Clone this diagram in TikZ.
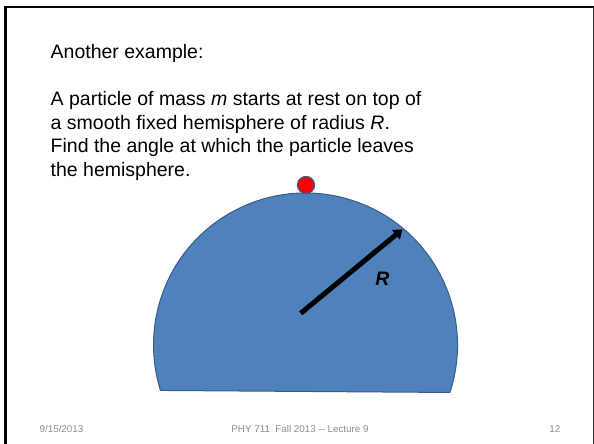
\documentclass[tikz,border=0pt]{standalone}
\usepackage{fontspec}
\setmainfont{Liberation Sans}
\usetikzlibrary{arrows.meta}
\definecolor{hemifill}{HTML}{4F81BD}
\definecolor{hemiline}{HTML}{385D8A}
\definecolor{footgray}{HTML}{8C8C8C}
\tikzset{
  bodytext/.style={inner sep=0pt, font=\fontsize{19.5}{23.5}\selectfont, anchor=base west},
  foottext/.style={inner sep=0pt, font=\fontsize{9.8}{12}\selectfont, text=footgray},
  hemi/.style={fill=hemifill, draw=hemiline, line width=1pt},
  particle/.style={circle, fill=red, draw=hemiline, line width=1.2pt, minimum size=17pt, inner sep=0pt},
  radiusarrow/.style={line width=5pt, -{Triangle[length=8.5pt,width=12pt]}, shorten >=-1pt},
  frameline/.style={line width=2.5pt, black}
}
\begin{document}
\begin{tikzpicture}[x=1pt,y=1pt]
\useasboundingbox (0,0) rectangle (594,444);
% slide frame
\coordinate (fbl) at (5.3,0);
\coordinate (ftl) at (5.3,436.8);
\coordinate (ftr) at (593.3,436.8);
\coordinate (fbr) at (593.3,0);
\draw[frameline] (fbl) -- (ftl);
\draw[frameline] (4.05,436.8) -- (594,436.8);
\draw[line width=1.3pt, black!80] (ftr) -- (fbr);
% text
\node[bodytext] (title) at (50.5,385.7) {Another example:};
\node[bodytext] (l1) at (50.5,338) {A particle of mass \textit{m} starts at rest on top of};
\node[bodytext] (l2) at (50.5,314.7) {a smooth fixed hemisphere of radius \textit{R}.};
\node[bodytext] (l3) at (50.5,291.2) {Find the angle at which the particle leaves};
\node[bodytext] (l4) at (50.5,267.5) {the hemisphere.};
% hemisphere
\coordinate (c) at (305.5,99);
\draw[hemi] (c) ++(-18.2:152) arc[start angle=-18.2, end angle=197.4, radius=152] -- cycle;
% particle
\node[particle] (p) at (306,259) {};
% radius arrow
\coordinate (tail) at (300.7,130.7);
\coordinate (tip) at (401.7,214);
\draw[radiusarrow] (tail) -- (tip);
\node[inner sep=0pt, font=\fontsize{19.5}{23.5}\selectfont\bfseries\itshape] (rlabel) at (382.3,165.7) {R};
% footer
\node[foottext, anchor=base west] (date) at (39.5,11.5) {9/15/2013};
\node[foottext, anchor=base] (course) at (300,11.5) {PHY 711\ \ Fall 2013 {-}{-} Lecture 9};
\node[foottext, anchor=base east] (page) at (560.5,11.5) {12};
\end{tikzpicture}
\end{document}
